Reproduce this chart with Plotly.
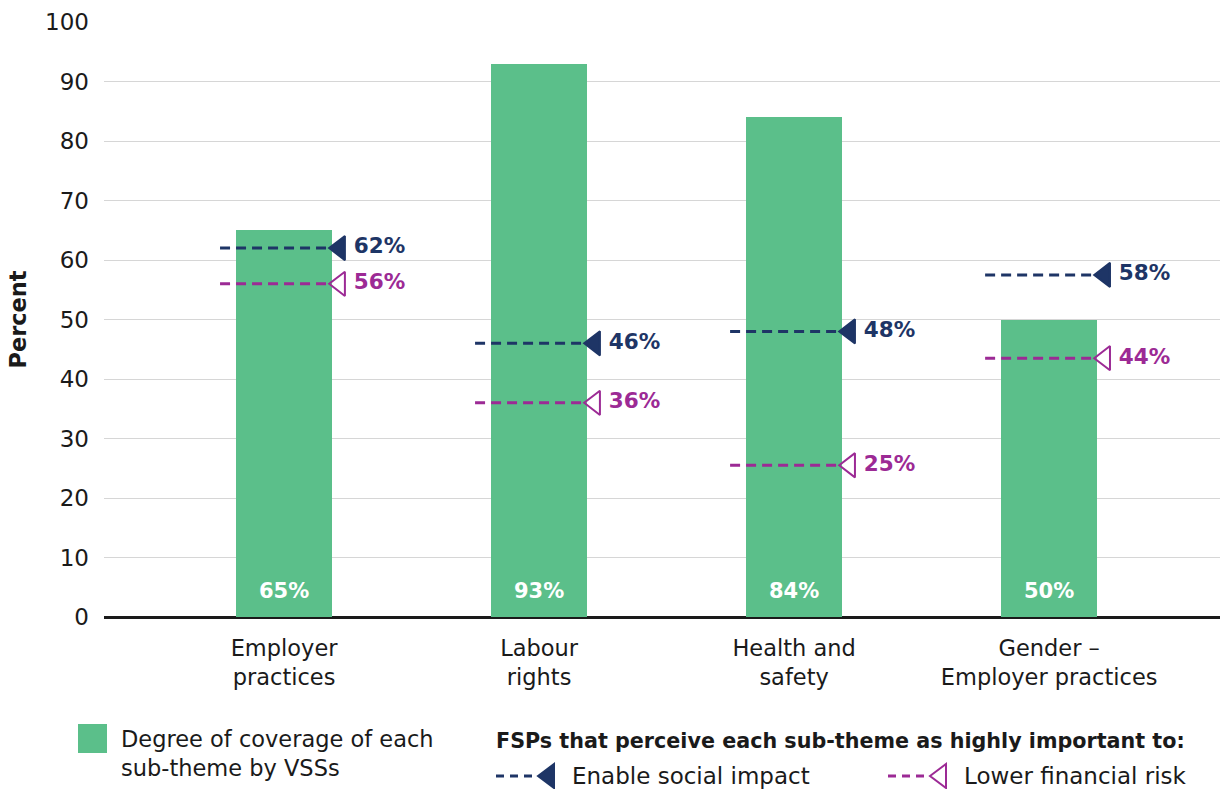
import plotly.graph_objects as go

categories = ["Employer<br>practices", "Labour<br>rights", "Health and<br>safety", "Gender –<br>Employer practices"]
coverage = [65, 93, 84, 50]
social_impact = [62, 46, 48, 57.5]
financial_risk = [56, 36, 25.5, 43.5]
social_labels = ["62%", "46%", "48%", "58%"]
risk_labels = ["56%", "36%", "25%", "44%"]
coverage_labels = ["65%", "93%", "84%", "50%"]
y_ticks = list(range(0, 101, 10))

GREEN = "#5BBF8A"
NAVY = "#1E3566"
MAGENTA = "#9C2A95"
FONT = "DejaVu Sans"
TXT = "#1a1a1a"

W, H = 1222, 789
L, R, T, B = 104, 2, 22, 172

fig = go.Figure()
xs = list(range(len(categories)))

fig.add_trace(go.Bar(
    x=xs, y=coverage, width=0.376, marker=dict(color=GREEN, line=dict(width=0)),
    showlegend=False, hoverinfo="skip"))

def add_series(vals, labels, color, symbol):
    for i, v in enumerate(vals):
        fig.add_trace(go.Scatter(
            x=[i - 0.251, i + 0.17], y=[v, v], mode="lines",
            line=dict(color=color, width=3, dash="10px,6px"),
            showlegend=False, hoverinfo="skip"))
    fig.add_trace(go.Scatter(
        x=[i + 0.218 for i in xs], y=vals, mode="markers+text",
        marker=dict(symbol=symbol, size=21, color=color,
                    line=dict(color=color, width=2)),
        text=labels, textposition="middle right",
        textfont=dict(family=FONT, size=21.5, color=color, weight="bold"),
        showlegend=False, hoverinfo="skip"))

add_series(social_impact, social_labels, NAVY, "triangle-left")
add_series(financial_risk, risk_labels, MAGENTA, "triangle-left-open")

annotations = []
for i, lab in enumerate(coverage_labels):
    annotations.append(dict(x=i, y=0, xref="x", yref="y", yanchor="bottom", yshift=12, text=lab,
                            showarrow=False, font=dict(family=FONT, size=21, color="white", weight="bold")))

fig.update_layout(
    width=W, height=H, margin=dict(l=L, r=R, t=T, b=B, autoexpand=False),
    paper_bgcolor="white", plot_bgcolor="white",
    font=dict(family=FONT, color=TXT),
    bargap=0,
    xaxis=dict(range=[-0.706, 3.67], tickvals=xs, ticktext=categories,
               tickfont=dict(family=FONT, size=22.5, color=TXT), ticklabelstandoff=15,
               showgrid=False, zeroline=False, showline=False, ticks="",
               fixedrange=True),
    yaxis=dict(range=[0, 100], tickvals=y_ticks, showgrid=True, gridcolor="#d6d6d6",
               gridwidth=1.2, zeroline=True, zerolinecolor=TXT, zerolinewidth=2.5,
               tickfont=dict(family=FONT, size=23, color=TXT), ticklabelstandoff=14,
               title=dict(text="<b>Percent</b>", font=dict(family=FONT, size=22.5, color=TXT),
                          standoff=12)),
)

pw, ph = W - L - R, H - T - B
def px(x):
    return (x - L) / pw
def py(y):
    return (H - B - y) / ph

shapes = []
# legend: green square
shapes.append(dict(type="rect", xref="paper", yref="paper", x0=px(78), x1=px(107), y0=py(753), y1=py(724),
                   fillcolor=GREEN, line=dict(width=0)))
annotations.append(dict(xref="paper", yref="paper", x=px(119), y=py(753), xanchor="left", yanchor="middle",
                        text="Degree of coverage of each<br>sub-theme by VSSs", align="left", showarrow=False,
                        font=dict(family=FONT, size=22.5, color=TXT)))
annotations.append(dict(xref="paper", yref="paper", x=px(494), y=py(741), xanchor="left", yanchor="middle",
                        text="<b>FSPs that perceive each sub-theme as highly important to:</b>", showarrow=False,
                        font=dict(family=FONT, size=20.7, color=TXT)))

def legend_item(x0, color, filled, label):
    yy = py(776)
    shapes.append(dict(type="line", xref="paper", yref="paper", x0=px(x0), x1=px(x0 + 42), y0=yy, y1=yy,
                       line=dict(color=color, width=3, dash="8px,6px")))
    tip, base = x0 + 42, x0 + 58
    path = f"M {px(tip)},{yy} L {px(base)},{py(764)} L {px(base)},{py(788)} Z"
    shapes.append(dict(type="path", xref="paper", yref="paper", path=path,
                       fillcolor=color if filled else "white", line=dict(color=color, width=2)))
    annotations.append(dict(xref="paper", yref="paper", x=px(x0 + 74), y=yy, xanchor="left", yanchor="middle",
                            text=label, showarrow=False, font=dict(family=FONT, size=23, color=TXT)))

legend_item(496, NAVY, True, "Enable social impact")
legend_item(888, MAGENTA, False, "Lower financial risk")

fig.update_layout(shapes=shapes, annotations=annotations)
fig.write_html("out.html")
